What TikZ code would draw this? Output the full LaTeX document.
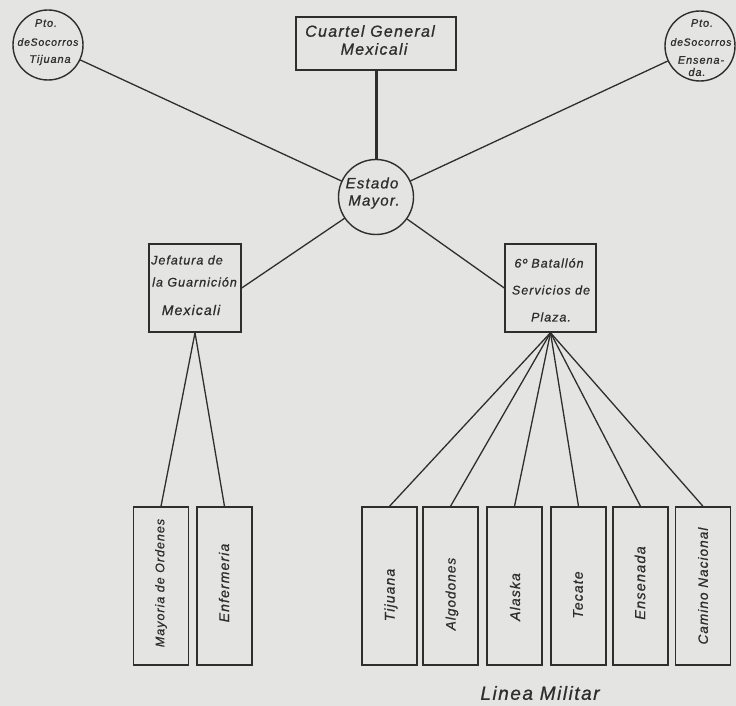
\documentclass[tikz,border=0pt]{standalone}
\usepackage{fontspec}
\newfontfamily\hand{Liberation Sans}[LetterSpace=8,FakeBold=0.8]
\definecolor{bgc}{HTML}{E4E4E2}
\definecolor{ink}{HTML}{2E2E2E}
\begin{document}
\begin{tikzpicture}[x=1pt,y=-1pt,
  txt/.style={font=\hand\itshape\fontsize{#1}{#1}\selectfont, inner sep=0pt, text=ink},
  boxnode/.style={draw=ink, line width=1.4pt, inner sep=0pt, rectangle},
  circnode/.style={draw=ink, line width=1.4pt, inner sep=0pt, circle, minimum size=#1},
  link/.style={draw=ink, line width=1.3pt, line cap=round},
  thicklink/.style={draw=ink, line width=3pt}]
\fill[bgc] (0,0) rectangle (736,706);
\useasboundingbox (0,0) rectangle (736,706);

% top nodes
\node[circnode=70pt] (tj) at (48,45) {};
\node[txt=11] (tja) at (46,23) {Pto.};
\node[txt=10.5] (tjb) at (48,42) {de\hspace{0.05em}Socorros};
\node[txt=11] (tjc) at (50,60) {Tijuana};

\node[circnode=70pt] (en) at (700,46) {};
\node[txt=11] (ena) at (702,23) {Pto.};
\node[txt=10.5] (enb) at (701,42) {de\hspace{0.05em}Socorros};
\node[txt=11] (enc) at (701,60) {Ensena-};
\node[txt=11] (end) at (697,72) {da.};

\node[boxnode, minimum width=160pt, minimum height=53pt] (cg) at (376,43.5) {};
\node[txt=16] (cga) at (370,31) {Cuartel General};
\node[txt=16] (cgb) at (374,49) {Mexicali};

\node[circnode=75pt] (em) at (376,197) {};
\node[txt=15] (ema) at (372,183) {Estado};
\node[txt=15] (emb) at (374,202) {Mayor.};

% middle boxes
\node[boxnode, minimum width=92pt, minimum height=88pt] (jg) at (195,288) {};
\node[txt=12.5, anchor=west] (jga) at (151,260) {Jefatura de};
\node[txt=12.5, anchor=west] (jgb) at (152,282) {la Guarnición};
\node[txt=14] (jgc) at (191,310) {Mexicali};

\node[boxnode, minimum width=91pt, minimum height=88pt] (sp) at (550.5,288) {};
\node[txt=12.5] (spa) at (549,263) {6º Batallón};
\node[txt=12.5] (spb) at (551,290) {Servicios de};
\node[txt=12.5] (spc) at (551,317) {Plaza.};

% bottom boxes
\foreach \n/\x in {mo/161, ef/224.5, b1/389.5, b2/450.5, b3/514.5, b4/578.5, b5/640.5, b6/703}
  \node[boxnode, minimum width=55pt, minimum height=158pt] (\n) at (\x,586) {};

\node[txt=12.5, rotate=90] (moa) at (161,583) {Mayoria de Ordenes};
\node[txt=14, rotate=90] (efa) at (224,583) {Enfermeria};
\node[txt=14, rotate=90] (b1a) at (391,595) {Tijuana};
\node[txt=13.5, rotate=90] (b2a) at (452,594) {Algodones};
\node[txt=14, rotate=90] (b3a) at (515,597) {Alaska};
\node[txt=14, rotate=90] (b4a) at (578,595) {Tecate};
\node[txt=14.5, rotate=90] (b5a) at (640,583) {Ensenada};
\node[txt=13.5, rotate=90] (b6a) at (703,586) {Camino Nacional};

\node[txt=19] (lm) at (540,693) {Linea Militar};

% connectors
\draw[thicklink] (cg) -- (em);
\draw[link] (tj) -- (em);
\draw[link] (en) -- (em);
\draw[link] (em) -- (jg.east);
\draw[link] (em) -- (sp.west);
\draw[link] (jg.south) -- (mo.north);
\draw[link] (jg.south) -- (ef.north);
\foreach \n in {b1,b2,b3,b4,b5,b6}
  \draw[link] (sp.south) -- (\n.north);
\end{tikzpicture}
\end{document}
